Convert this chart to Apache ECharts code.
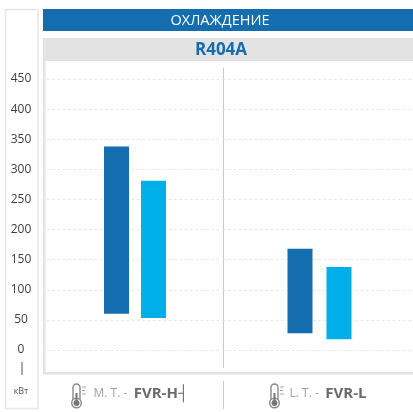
<!DOCTYPE html>
<html>
<head>
<meta charset="utf-8">
<style>html,body{margin:0;padding:0;background:#fff}#chart{width:413px;height:412px}</style>
<script src="https://cdn.jsdelivr.net/npm/echarts@6/dist/echarts.min.js"></script>
</head>
<body>
<div id="chart"></div>
<script>
var header = 'ОХЛАЖДЕНИЕ';
var refrigerant = 'R404A';
var unit = 'кВт';
var left_label = ['M. T. - ', 'FVR-H┤'];
var right_label = ['L. T. - ', 'FVR-L'];
var y_ticks = [0, 50, 100, 150, 200, 250, 300, 350, 400, 450];
// floating bars, low and high end of each range
var left_low = [60, 53];
var left_high = [338, 281];
var right_low = [28, 18];
var right_high = [168, 138];

var dark = '#146daf', light = '#00aeea', band = '#e3e3e3', font = '"Open Sans"';

function diff(high, low) {
    return high.map(function (v, i) { return v - low[i]; });
}

// one stack per colour and grid, invisible base under a visible range
function range_series(axis, index, low, high, color, gap) {
    var stack = 'g' + axis + 's' + index;
    return [
        {type: 'bar', xAxisIndex: axis, yAxisIndex: axis, stack: stack, barWidth: 25, barGap: gap, silent: true,
            itemStyle: {color: 'transparent'}, data: [low[index]]},
        {type: 'bar', xAxisIndex: axis, yAxisIndex: axis, stack: stack, barWidth: 25, barGap: gap,
            itemStyle: {color: color}, data: [diff(high, low)[index]]}
    ];
}

function x_axis(grid, label, shift) {
    return {
        type: 'category', gridIndex: grid, data: [label[0] + '|' + label[1]],
        axisLine: {show: false}, axisTick: {show: false},
        axisLabel: {
            margin: 36, padding: [0, 0, 0, shift],
            formatter: function (v) {
                var p = v.split('|');
                return '{a|' + p[0] + '} {b|' + p[1] + '}';
            },
            rich: {
                a: {fontFamily: font, fontSize: 12, color: '#a0a0a0'},
                b: {fontFamily: font, fontSize: 15, fontWeight: 'bold', color: '#6a6a6a'}
            }
        }
    };
}

function y_axis(grid, show) {
    return {
        type: 'value', gridIndex: grid, min: y_ticks[0], max: y_ticks[y_ticks.length - 1], interval: 50,
        axisLine: {show: false}, axisTick: {show: false},
        axisLabel: {show: show, margin: 26, align: 'center', fontFamily: font, fontSize: 12, color: '#3c3c3c'},
        splitLine: {show: true, lineStyle: {color: '#e6e6e6', type: [2.5, 2.8], width: 1}}
    };
}

function thermometer(x) {
    return {
        type: 'group', x: x, y: 383, silent: true,
        children: [
            {type: 'rect', shape: {x: 3, y: 1, width: 7, height: 18, r: 3.5}, style: {fill: '#fff', stroke: '#8a8a8a', lineWidth: 1.4}},
            {type: 'circle', shape: {cx: 6.5, cy: 20, r: 4.8}, style: {fill: '#fff', stroke: '#8a8a8a', lineWidth: 1.4}},
            {type: 'circle', shape: {cx: 6.5, cy: 20, r: 3}, style: {fill: '#777'}},
            {type: 'rect', shape: {x: 5.5, y: 10, width: 2, height: 9}, style: {fill: '#777'}},
            {type: 'line', shape: {x1: 12, y1: 4, x2: 16, y2: 4}, style: {stroke: '#a5a5a5', lineWidth: 1}},
            {type: 'line', shape: {x1: 12, y1: 7.5, x2: 15, y2: 7.5}, style: {stroke: '#a5a5a5', lineWidth: 1}},
            {type: 'line', shape: {x1: 12, y1: 11, x2: 16, y2: 11}, style: {stroke: '#a5a5a5', lineWidth: 1}}
        ]
    };
}

var chart = echarts.init(document.getElementById('chart'), null, {renderer: 'canvas'});
chart.setOption({
    animation: false,
    backgroundColor: '#fff',
    grid: [
        {left: 47, width: 176, top: 79, height: 271, outerBoundsMode: 'none'},
        {left: 223, width: 193, top: 79, height: 271, outerBoundsMode: 'none'}
    ],
    xAxis: [x_axis(0, left_label, 12), x_axis(1, right_label, 17)],
    yAxis: [y_axis(0, true), y_axis(1, false)],
    series: range_series(0, 0, left_low, left_high, dark, '48%')
        .concat(range_series(0, 1, left_low, left_high, light, '48%'))
        .concat(range_series(1, 0, right_low, right_high, dark, '56%'))
        .concat(range_series(1, 1, right_low, right_high, light, '56%')),
    graphic: [
        {type: 'rect', silent: true, shape: {x: 5.5, y: 9.5, width: 32.5, height: 399}, style: {fill: 'none', stroke: '#e6e6e6', lineWidth: 1.5}},
        {type: 'rect', silent: true, shape: {x: 43, y: 9, width: 370, height: 22}, style: {fill: dark}},
        {type: 'text', silent: true, x: 220, y: 21, style: {text: header, fill: '#fff', font: '14.5px ' + font, textAlign: 'center', textVerticalAlign: 'middle'}},
        {type: 'rect', silent: true, shape: {x: 43, y: 38, width: 370, height: 23}, style: {fill: band}},
        {type: 'text', silent: true, x: 221, y: 50, style: {text: refrigerant, fill: dark, font: 'bold 17px ' + font, textAlign: 'center', textVerticalAlign: 'middle'}},
        {type: 'rect', silent: true, shape: {x: 43, y: 61, width: 2.5, height: 313}, style: {fill: band}},
        {type: 'rect', silent: true, shape: {x: 43, y: 372, width: 370, height: 2.5}, style: {fill: band}},
        {type: 'line', silent: true, shape: {x1: 223.5, y1: 68, x2: 223.5, y2: 368}, style: {stroke: '#c8c8c8', lineWidth: 1}},
        {type: 'line', silent: true, shape: {x1: 223.5, y1: 381, x2: 223.5, y2: 409}, style: {stroke: '#c8c8c8', lineWidth: 1}},
        {type: 'line', silent: true, shape: {x1: 22, y1: 362, x2: 22, y2: 375}, style: {stroke: '#555', lineWidth: 1}},
        {type: 'text', silent: true, x: 21, y: 391, style: {text: unit, fill: '#555', font: '9px ' + font, textAlign: 'center', textVerticalAlign: 'middle'}},
        thermometer(70),
        thermometer(268)
    ]
});
</script>
</body>
</html>
